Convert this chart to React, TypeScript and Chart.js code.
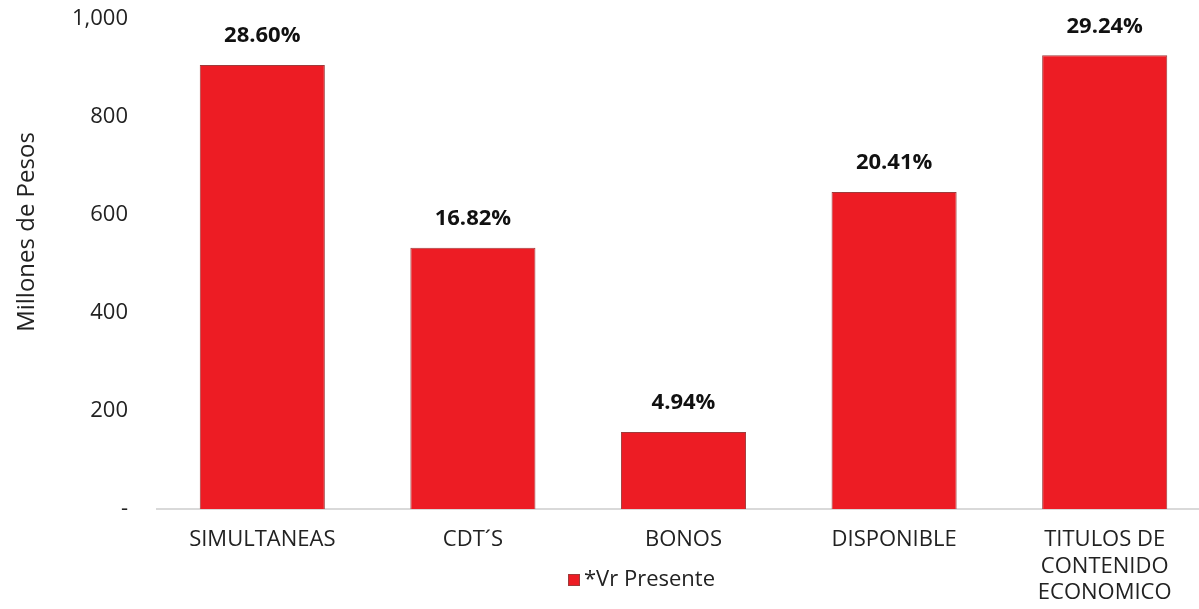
import React, { useEffect, useRef } from "react";
import { Chart, registerables } from "chart.js";

Chart.register(...registerables);

const categories: (string | string[])[] = [
  "SIMULTANEAS",
  "CDT´S",
  "BONOS",
  "DISPONIBLE",
  ["TITULOS DE", "CONTENIDO", "ECONOMICO"],
];
const seriesLabel = "*Vr Presente";
const values = [906, 533, 157, 647, 926];
const percentLabels = ["28.60%", "16.82%", "4.94%", "20.41%", "29.24%"];
const yTicks = [0, 200, 400, 600, 800, 1000];
const yTitle = "Millones de Pesos";

const FONT = "'Open Sans', 'DejaVu Sans', sans-serif";
const RED = "#ED1C24";

const labelPlugin = {
  id: "barLabels",
  afterDatasetsDraw(chart: any) {
    const ctx = chart.ctx;
    const meta = chart.getDatasetMeta(0);
    ctx.save();
    ctx.font = `bold 22px ${FONT}`;
    ctx.fillStyle = "#111111";
    ctx.textAlign = "center";
    ctx.textBaseline = "middle";
    meta.data.forEach((bar: any, i: number) => {
      ctx.fillText(percentLabels[i], bar.x, bar.y - 29);
    });
    ctx.restore();
  },
};

const extrasPlugin = {
  id: "extras",
  afterDraw(chart: any) {
    const ctx = chart.ctx;
    const area = chart.chartArea;
    // legend
    const x = area.left + 411;
    const y = 580;
    ctx.save();
    ctx.fillStyle = RED;
    ctx.strokeStyle = "#9E3B3B";
    ctx.lineWidth = 1;
    ctx.fillRect(x, y - 6, 12, 12);
    ctx.strokeRect(x + 0.5, y - 5.5, 11, 11);
    ctx.font = `22px ${FONT}`;
    ctx.fillStyle = "#222222";
    ctx.textAlign = "left";
    ctx.textBaseline = "middle";
    ctx.fillText(seriesLabel, x + 16, y);
    ctx.restore();
    // y-axis title
    ctx.save();
    ctx.translate(34, area.top + 213);
    ctx.rotate(-Math.PI / 2);
    ctx.font = `24px ${FONT}`;
    ctx.fillStyle = "#222222";
    ctx.textAlign = "center";
    ctx.textBaseline = "alphabetic";
    ctx.fillText(yTitle, 0, 0);
    ctx.restore();
  },
};

export default function App() {
  const ref = useRef<HTMLCanvasElement>(null);

  useEffect(() => {
    if (!ref.current) return;
    const chart = new Chart(ref.current, {
      type: "bar",
      data: {
        labels: categories as any,
        datasets: [
          {
            label: seriesLabel,
            data: values,
            backgroundColor: RED,
            borderColor: "#9E3B3B",
            borderWidth: 1,
            categoryPercentage: 1,
            barPercentage: 0.594,
          },
        ],
      },
      options: {
        animation: false,
        responsive: false,
        maintainAspectRatio: false,
        layout: { padding: { top: 19, left: 0, right: 0, bottom: 0 } },
        plugins: {
          legend: { display: false },
          tooltip: { enabled: false },
        },
        scales: {
          x: {
            grid: { display: false, drawTicks: false },
            border: { display: true, color: "#D9D9D9", width: 2 },
            ticks: {
              color: "#222222",
              font: { family: FONT, size: 22, lineHeight: 1.2 },
              padding: 18,
              maxRotation: 0,
              autoSkip: false,
            },
            afterFit: (s: any) => {
              s.height = 100;
              s.paddingLeft = 0;
              s.paddingRight = 0;
            },
          },
          y: {
            min: 0,
            max: 1000,
            grid: { display: false, drawTicks: false },
            border: { display: false },
            afterBuildTicks: (s: any) => {
              s.ticks = yTicks.map((v) => ({ value: v }));
            },
            ticks: {
              color: "#222222",
              font: { family: FONT, size: 22 },
              padding: 29,
              callback: (v: any) =>
                Number(v) === 0 ? "-" : Number(v).toLocaleString("en-US"),
            },
            title: { display: false },
            afterFit: (s: any) => {
              s.width = 157;
              s.paddingTop = 0;
              s.paddingBottom = 0;
            },
          },
        },
      },
      plugins: [labelPlugin, extrasPlugin],
    });
    return () => chart.destroy();
  }, []);

  return (
    <div
      style={{
        position: "fixed",
        left: 0,
        top: 0,
        width: 1199,
        height: 609,
        overflow: "hidden",
        background: "#ffffff",
      }}
    >
      <canvas ref={ref} width={1210} height={609} style={{ display: "block" }} />
    </div>
  );
}
